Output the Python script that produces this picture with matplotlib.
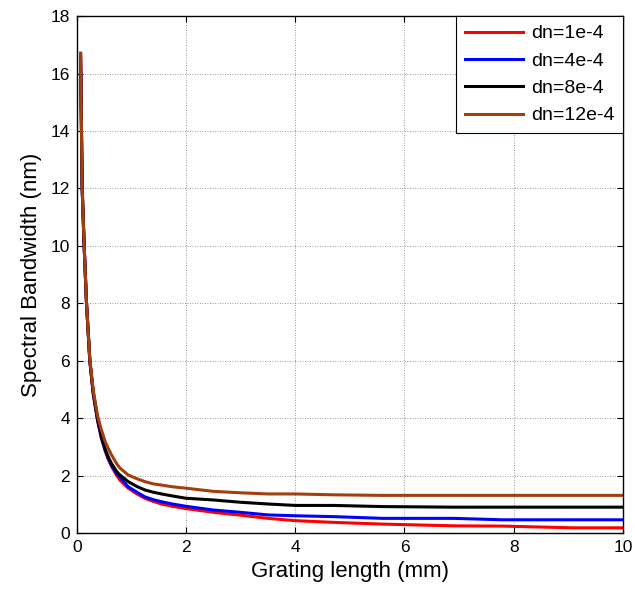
import matplotlib
matplotlib.use("Agg")
import matplotlib.pyplot as plt

plt.rcParams['font.family'] = ['Liberation Sans', 'DejaVu Sans']

# Grating length (mm)
x_vals = [0.068, 0.085, 0.098, 0.134, 0.177, 0.238, 0.30, 0.38, 0.45, 0.52, 0.575,
          0.635, 0.727, 0.757, 0.79, 0.94, 1.1, 1.245, 1.4, 1.55, 1.75, 2.0, 2.5,
          3.0, 3.5, 4.0, 4.7, 5.6, 6.9, 7.8, 9.1, 10.0]

# Spectral bandwidth (nm)
bw_1e4 = [16.7, 14.0, 12.0, 10.0, 8.0, 6.0, 4.85, 3.9, 3.3, 2.85, 2.57,
          2.32, 2.02, 1.93, 1.84, 1.56, 1.36, 1.21, 1.10, 1.01, 0.93, 0.85, 0.72,
          0.62, 0.51, 0.43, 0.37, 0.31, 0.25, 0.24, 0.18, 0.18]
bw_4e4 = [16.7, 14.0, 12.0, 10.0, 8.0, 6.0, 4.87, 3.93, 3.32, 2.88, 2.60,
          2.36, 2.07, 2.02, 1.94, 1.61, 1.42, 1.26, 1.16, 1.09, 1.01, 0.93, 0.80,
          0.72, 0.63, 0.60, 0.57, 0.51, 0.51, 0.46, 0.46, 0.46]
bw_8e4 = [16.7, 14.0, 12.0, 10.0, 8.0, 6.0, 4.9, 3.98, 3.37, 2.92, 2.65,
          2.42, 2.15, 2.08, 2.02, 1.79, 1.62, 1.50, 1.42, 1.36, 1.29, 1.21, 1.15,
          1.07, 1.01, 0.96, 0.96, 0.92, 0.90, 0.90, 0.90, 0.90]
bw_12e4 = [16.7, 14.0, 12.0, 10.0, 8.0, 6.05, 4.98, 4.08, 3.59, 3.18, 2.95,
           2.72, 2.42, 2.34, 2.26, 2.02, 1.89, 1.79, 1.71, 1.67, 1.61, 1.56, 1.45,
           1.40, 1.36, 1.36, 1.33, 1.31, 1.31, 1.31, 1.31, 1.31]

labels = ["dn=1e-4", "dn=4e-4", "dn=8e-4", "dn=12e-4"]
colors = ["#FF0000", "#0000FF", "#000000", "#A0400F"]
series = [bw_1e4, bw_4e4, bw_8e4, bw_12e4]

fig = plt.figure(figsize=(6.35, 5.96), dpi=100)
ax = fig.add_axes([0.121, 0.1057, 0.860, 0.8673])

for ys, lab, c in zip(series, labels, colors):
    ax.plot(x_vals, ys, color=c, lw=2.2, label=lab)

ax.set_xlim(0, 10)
ax.set_ylim(0, 18)
ax.set_xticks([0, 2, 4, 6, 8, 10])
ax.set_yticks(list(range(0, 19, 2)))
ax.grid(True, color='#777777', linestyle=(0, (1, 2)), linewidth=0.6)
ax.tick_params(direction='in', top=True, right=True, labelsize=12.5, length=4, width=0.8, pad=5)
for s in ax.spines.values():
    s.set_linewidth(1.0)
ax.set_xlabel("Grating length (mm)", fontsize=16, labelpad=4)
ax.set_ylabel("Spectral Bandwidth (nm)", fontsize=16, labelpad=6)

leg = ax.legend(loc='upper right', bbox_to_anchor=(1, 1), borderaxespad=0,
                fancybox=False, framealpha=1, edgecolor='black', fontsize=14,
                handlelength=3.0, handletextpad=0.4, borderpad=0.45, labelspacing=0.5)
leg.get_frame().set_linewidth(0.8)

fig.savefig("out.png", dpi=100)
